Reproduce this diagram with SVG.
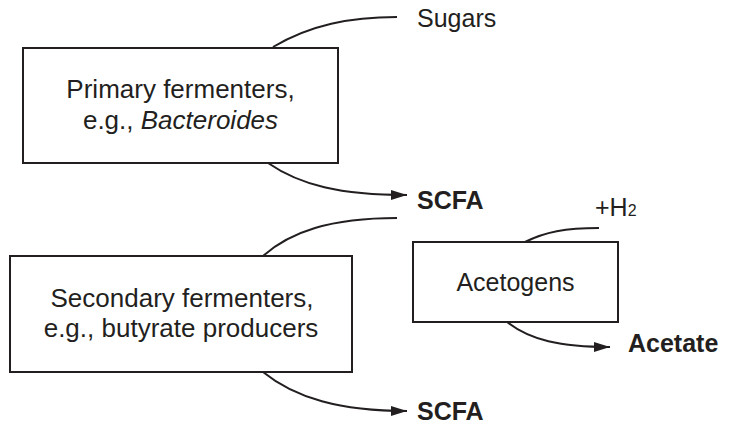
<svg xmlns="http://www.w3.org/2000/svg" width="729" height="431" viewBox="0 0 729 431">
<style>
.box{fill:#fff;stroke:#231f20;stroke-width:2}
.ln{fill:none;stroke:#231f20;stroke-width:2}
.t{font-family:"Liberation Sans",Arial,sans-serif;font-size:25px;fill:#231f20}
.bt{font-size:26px}
.b{font-weight:bold}
.c{text-anchor:middle}
</style>
<defs>
<marker id="ah" markerUnits="userSpaceOnUse" viewBox="0 0 16 10" refX="16" refY="5" markerWidth="16" markerHeight="10" orient="auto">
<path d="M0,0 L16,5 L0,10 Z" fill="#231f20"/>
</marker>
</defs>
<g id="connectors">
<path class="ln" d="M273,47 C310,25 350,17 397,17"/>
<path class="ln" d="M268,163 C300,185 340,195 407,195" marker-end="url(#ah)"/>
<path class="ln" d="M263,256 C290,232 330,218 397,218"/>
<path class="ln" d="M263,372 C295,398 340,411 407,411" marker-end="url(#ah)"/>
<path class="ln" d="M525,242 C545,232 565,228 599,228"/>
<path class="ln" d="M507,322 C530,340 560,347 610,347" marker-end="url(#ah)"/>
</g>
<g id="primary">
<rect class="box" x="23" y="48" width="315" height="115"/>
<text class="t bt c" x="180.5" y="98">Primary fermenters,</text>
<text class="t bt c" x="180.5" y="129">e.g., <tspan font-style="italic">Bacteroides</tspan></text>
</g>
<g id="secondary">
<rect class="box" x="10" y="256" width="342" height="116"/>
<text class="t bt c" x="182" y="307">Secondary fermenters,</text>
<text class="t bt c" x="181" y="337">e.g., butyrate producers</text>
</g>
<g id="acetogens">
<rect class="box" x="413" y="242" width="205" height="80"/>
<text class="t c" x="515.5" y="291" font-size="25.5">Acetogens</text>
</g>
<g id="sugars"><text class="t" x="417" y="27">Sugars</text></g>
<g id="scfa1"><text class="t b" x="417" y="209">SCFA</text></g>
<g id="scfa2"><text class="t b" x="417" y="420">SCFA</text></g>
<g id="h2"><text class="t" x="595" y="216" font-size="20">+H<tspan font-size="16">2</tspan></text></g>
<g id="acetate"><text class="t b" x="628" y="352">Acetate</text></g>
</svg>
